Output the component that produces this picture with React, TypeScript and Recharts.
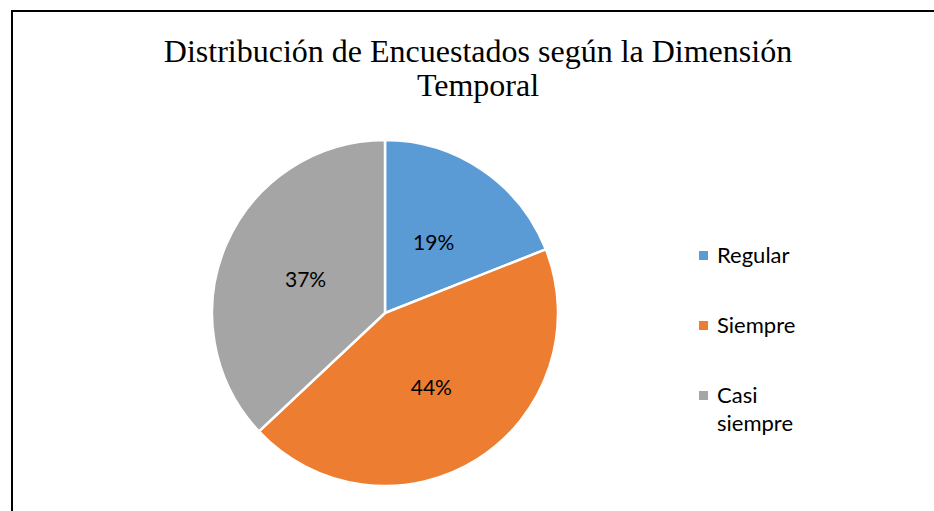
import { Cell, Pie, PieChart } from "recharts";

const categories = ["Regular", "Siempre", "Casi siempre"];
const shares = [19, 44, 37];
const colors = ["#5B9BD5", "#ED7D31", "#A5A5A5"];
const title = "Distribución de Encuestados según la Dimensión Temporal";

const data = categories.map((name, i) => ({ name, value: shares[i] }));

const RADIAN = Math.PI / 180;

function renderLabel(props: any) {
  const { cx, cy, midAngle, outerRadius, percent } = props;
  const r = outerRadius * 0.5;
  const x = cx + r * Math.cos(-midAngle * RADIAN);
  const y = cy + r * Math.sin(-midAngle * RADIAN);
  return (
    <text
      x={x}
      y={y}
      fill="#000"
      textAnchor="middle"
      dominantBaseline="central"
      fontFamily="Lato"
      fontSize={21}
    >
      {`${Math.round(percent * 100)}%`}
    </text>
  );
}

// legend drawn from the same arrays, in data order (Recharts would sort it)
function ChartLegend() {
  return (
    <div
      style={{
        position: "absolute",
        left: 699,
        top: 241,
        fontFamily: "Lato",
        fontSize: 22,
        color: "#000"
      }}
    >
      {categories.map((name, i) => (
        <div
          key={name}
          style={{ display: "flex", alignItems: "flex-start", height: 70, lineHeight: "28px" }}
        >
          <span
            style={{
              display: "inline-block",
              width: 9,
              height: 9,
              marginTop: 10,
              marginRight: 9,
              background: colors[i]
            }}
          />
          <span style={{ width: 90 }}>{name}</span>
        </div>
      ))}
    </div>
  );
}

export default function App() {
  return (
    <div
      style={{
        position: "absolute",
        left: 0,
        top: 0,
        width: 934,
        height: 511,
        overflow: "hidden",
        background: "#fff"
      }}
    >
      <div
        style={{
          position: "absolute",
          left: 11,
          top: 10,
          width: 1000,
          height: 600,
          border: "2px solid #000"
        }}
      />
      <div
        style={{
          position: "absolute",
          left: 128,
          top: 34,
          width: 700,
          textAlign: "center",
          fontFamily: "Liberation Serif",
          fontSize: 32,
          lineHeight: "34px",
          color: "#000"
        }}
      >
        {title}
      </div>
      <div style={{ position: "absolute", left: 0, top: 0 }}>
        <PieChart width={934} height={511} margin={{ top: 0, right: 0, bottom: 0, left: 0 }}>
          <Pie
            data={data}
            dataKey="value"
            nameKey="name"
            cx={385}
            cy={313}
            outerRadius={173}
            startAngle={90}
            endAngle={-270}
            stroke="#fff"
            strokeWidth={2.5}
            label={renderLabel}
            labelLine={false}
            isAnimationActive={false}
          >
            {data.map((entry, i) => (
              <Cell key={entry.name} fill={colors[i]} />
            ))}
          </Pie>
        </PieChart>
      </div>
      <ChartLegend />
    </div>
  );
}
